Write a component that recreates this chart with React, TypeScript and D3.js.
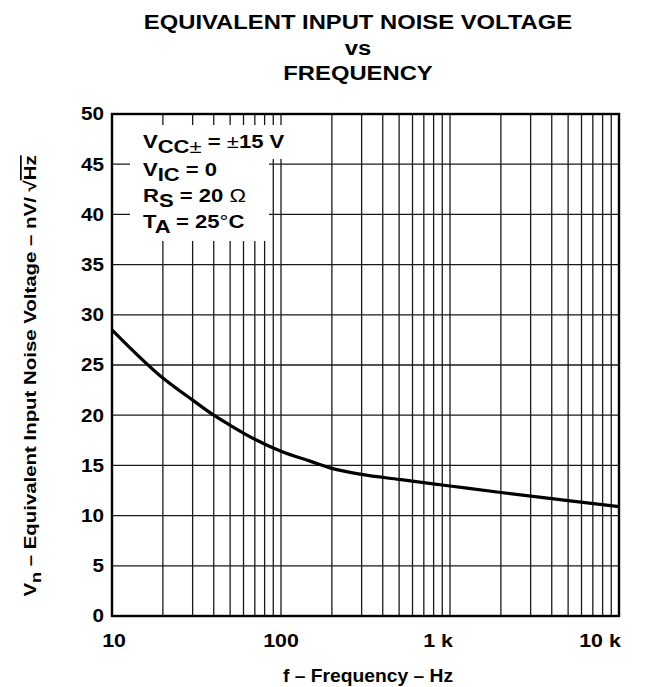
import * as d3 from 'd3';
import React, { useEffect, useRef } from 'react';

// curve
const freqs = [10, 20, 30, 40, 50, 70, 100, 150, 200, 300, 500, 1000, 2000, 5000, 10000];
const noise = [28.5, 23.7, 21.5, 20.0, 19.0, 17.6, 16.4, 15.4, 14.7, 14.1, 13.6, 12.95, 12.3, 11.5, 10.9];

const yTicks = [0, 5, 10, 15, 20, 25, 30, 35, 40, 45, 50];
const xTickValues = [10, 100, 1000, 10000];
const xTickLabels = ['10', '100', '1 k', '10 k'];
const titleLines = ['EQUIVALENT INPUT NOISE VOLTAGE', 'vs', 'FREQUENCY'];

const FONT = '"Liberation Sans", Arial, Helvetica, sans-serif';

// the original lettering is wider than Arial: stretch each text horizontally
function stretch(sel: d3.Selection<SVGTextElement, any, any, any>, factor: number) {
  sel.each(function () {
    const len = this.getComputedTextLength();
    d3.select(this)
      .attr('textLength', len * factor)
      .attr('lengthAdjust', 'spacingAndGlyphs');
  });
}

const App: React.FC = () => {
  const ref = useRef<SVGSVGElement | null>(null);

  useEffect(() => {
    if (!ref.current) return;
    const svg = d3.select(ref.current);
    svg.selectAll('*').remove();

    const margin = { top: 114, right: 41, bottom: 71, left: 112 };
    const W = 660;
    const H = 687;
    const width = W - margin.left - margin.right;
    const height = H - margin.top - margin.bottom;

    const x = d3.scaleLog().domain([10, 10000]).range([0, width]);
    const y = d3.scaleLinear().domain([0, 50]).range([height, 0]);

    // titulo
    const titleY = [29, 55, 80];
    const title = svg
      .append('g')
      .selectAll('text')
      .data(titleLines)
      .enter()
      .append('text')
      .attr('x', 358)
      .attr('y', (_d, i) => titleY[i])
      .attr('text-anchor', 'middle')
      .style('font', `bold 19.5px ${FONT}`)
      .text((d) => d);
    stretch(title as any, 1.22);

    const g = svg.append('g').attr('transform', `translate(${margin.left},${margin.top})`);

    // grid menor
    const minor: number[] = [];
    [10, 100, 1000].forEach((dec) => {
      for (let k = 2; k <= 10; k++) minor.push(dec * k);
    });
    g.append('g')
      .selectAll('line')
      .data(minor.filter((v) => v < 10000))
      .enter()
      .append('line')
      .attr('x1', (d) => x(d))
      .attr('x2', (d) => x(d))
      .attr('y1', 0)
      .attr('y2', height)
      .attr('stroke', '#1a1a1a')
      .attr('stroke-width', 1.3);

    g.append('g')
      .selectAll('line')
      .data(yTicks.filter((v) => v > 0 && v < 50))
      .enter()
      .append('line')
      .attr('x1', 0)
      .attr('x2', width)
      .attr('y1', (d) => y(d))
      .attr('y2', (d) => y(d))
      .attr('stroke', '#1a1a1a')
      .attr('stroke-width', 1.3);

    // caja de la leyenda (tapa la rejilla)
    g.append('rect')
      .attr('x', 18)
      .attr('y', 11)
      .attr('width', 139)
      .attr('height', 116)
      .attr('fill', '#fff');
    g.append('rect')
      .attr('x', 18)
      .attr('y', 11)
      .attr('width', 156)
      .attr('height', 34)
      .attr('fill', '#fff');

    // curva
    const line = d3
      .line<number>()
      .x((_d, i) => x(freqs[i]))
      .y((d) => y(d))
      .curve(d3.curveMonotoneX);
    g.append('path')
      .datum(noise)
      .attr('fill', 'none')
      .attr('stroke', '#000')
      .attr('stroke-width', 3.2)
      .attr('d', line);

    // marco
    g.append('rect')
      .attr('width', width)
      .attr('height', height)
      .attr('fill', 'none')
      .attr('stroke', '#000')
      .attr('stroke-width', 2.4);

    // etiquetas eje y
    const yl = g
      .append('g')
      .selectAll('text')
      .data(yTicks)
      .enter()
      .append('text')
      .attr('x', -8)
      .attr('y', (d) => y(d))
      .attr('dy', '0.36em')
      .attr('text-anchor', 'end')
      .style('font', `bold 17.5px ${FONT}`)
      .text((d) => String(d));
    stretch(yl as any, 1.18);

    // etiquetas eje x
    const xPos = [2, 0, -12, -19];
    const xl = g
      .append('g')
      .selectAll('text')
      .data(xTickValues)
      .enter()
      .append('text')
      .attr('x', (d, i) => x(d) + xPos[i])
      .attr('y', height + 31)
      .attr('text-anchor', 'middle')
      .style('font', `bold 17.5px ${FONT}`)
      .style('white-space', 'pre')
      .text((_d, i) => xTickLabels[i]);
    stretch(xl as any, 1.22);

    const xt = svg
      .append('text')
      .attr('x', 368)
      .attr('y', 682)
      .attr('text-anchor', 'middle')
      .style('font', `bold 17.5px ${FONT}`)
      .text('f – Frequency – Hz');
    stretch(xt as any, 1.1);

    // titulo eje y
    const yt = svg
      .append('text')
      .attr('transform', 'translate(36,376) rotate(-90)')
      .attr('text-anchor', 'middle')
      .style('font', `bold 17px ${FONT}`);
    yt.append('tspan').text('V');
    yt.append('tspan').attr('dy', 5).style('font-size', '15px').text('n');
    yt.append('tspan').attr('dy', -5).text(' – Equivalent Input Noise Voltage – nV/ √');
    yt.append('tspan').style('text-decoration', 'overline').text('Hz');
    stretch(yt as any, 1.2);

    // leyenda
    const lg = g.append('g').style('font', `bold 19px ${FONT}`);
    const l1 = lg.append('text').attr('x', 31).attr('y', 34);
    l1.append('tspan').text('V');
    l1.append('tspan').attr('dy', 5).text('CC');
    l1.append('tspan').style('font-weight', 'normal').text('±');
    l1.append('tspan').attr('dy', -5).text(' = ');
    l1.append('tspan').style('font-weight', 'normal').text('±');
    l1.append('tspan').text('15 V');

    const l2 = lg.append('text').attr('x', 31).attr('y', 62);
    l2.append('tspan').text('V');
    l2.append('tspan').attr('dy', 5).text('IC');
    l2.append('tspan').attr('dy', -5).text(' = 0');

    const l3 = lg.append('text').attr('x', 31).attr('y', 88);
    l3.append('tspan').text('R');
    l3.append('tspan').attr('dy', 5).text('S');
    l3.append('tspan').attr('dy', -5).text(' = 20 ');
    l3.append('tspan').style('font-weight', 'normal').text('Ω');

    const l4 = lg.append('text').attr('x', 31).attr('y', 114);
    l4.append('tspan').text('T');
    l4.append('tspan').attr('dy', 5).text('A');
    l4.append('tspan').attr('dy', -5).text(' = 25');
    l4.append('tspan').style('font-weight', 'normal').text('°');
    l4.append('tspan').text('C');
    stretch(lg.selectAll<SVGTextElement, any>('text'), 1.16);
  }, []);

  return (
    <svg
      ref={ref}
      width={660}
      height={687}
      style={{ display: 'block', position: 'absolute', left: 0, top: 0, background: '#fff' }}
    />
  );
};

export default App;
